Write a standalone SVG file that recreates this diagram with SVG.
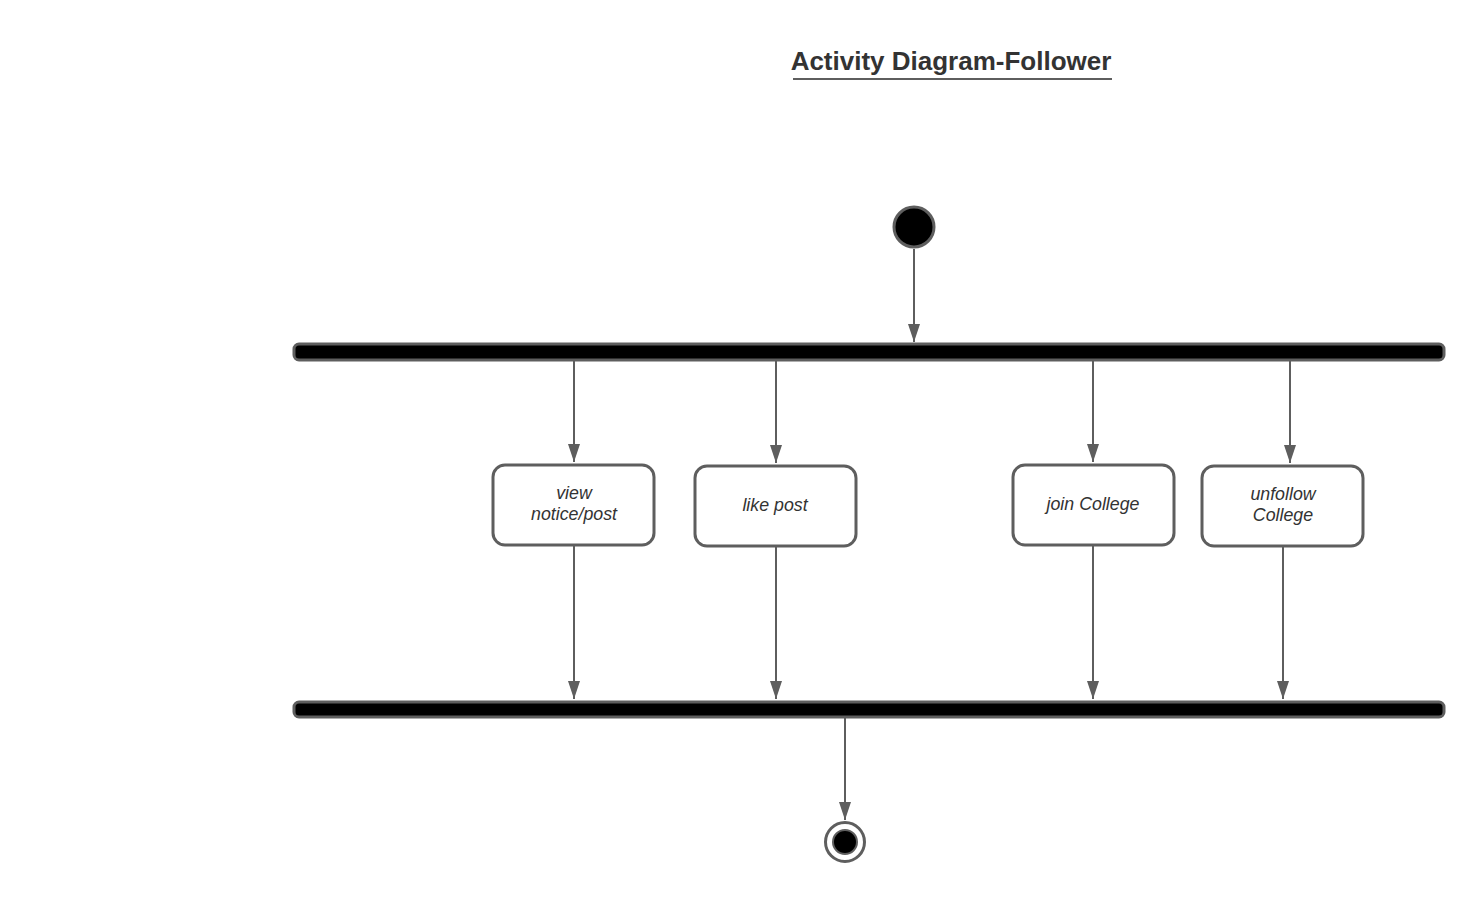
<svg xmlns="http://www.w3.org/2000/svg" width="1484" height="902" viewBox="0 0 1484 902">
<style>
.bar{fill:#000;stroke:#5e5e5e;stroke-width:3}
.act{fill:#fff;stroke:#5e5e5e;stroke-width:3}
.lbl{font-family:"Liberation Sans",Arial,sans-serif;font-size:17.8px;font-style:italic;fill:#333;text-anchor:middle}
.edge{stroke:#5e5e5e;stroke-width:2;fill:none;marker-end:url(#ah)}
</style>
<defs>
<marker id="ah" markerWidth="18" markerHeight="12" refX="18" refY="6" orient="auto" markerUnits="userSpaceOnUse" viewBox="0 0 18 12">
<path d="M0,0 L18,6 L0,12 Z" fill="#5e5e5e"/>
</marker>
</defs>
<rect width="1484" height="902" fill="#fff"/>
<g id="title">
<text x="951" y="70" font-family="'Liberation Sans',Arial,sans-serif" font-size="26" font-weight="bold" fill="#333" text-anchor="middle">Activity Diagram-Follower</text>
<line x1="793" y1="79" x2="1112" y2="79" stroke="#5e5e5e" stroke-width="2"/>
</g>
<g id="connectors">
<path class="edge" d="M914,249 V342"/>
<path class="edge" d="M574,361 V462"/>
<path class="edge" d="M776,361 V463"/>
<path class="edge" d="M1093,361 V462"/>
<path class="edge" d="M1290,361 V463"/>
<path class="edge" d="M574,546 V699"/>
<path class="edge" d="M776,547 V699"/>
<path class="edge" d="M1093,546 V699"/>
<path class="edge" d="M1283,547 V699"/>
<path class="edge" d="M845,718 V820"/>
</g>
<g id="start"><circle cx="914" cy="227" r="20" fill="#000" stroke="#5e5e5e" stroke-width="3"/></g>
<g id="fork"><rect class="bar" x="294" y="344" width="1150" height="16" rx="5"/></g>
<g id="join"><rect class="bar" x="294" y="702" width="1150" height="15" rx="5"/></g>
<g id="view"><rect class="act" x="493" y="465" width="161" height="80" rx="12"/><text class="lbl" x="574" y="499">view</text><text class="lbl" x="574" y="520">notice/post</text></g>
<g id="like"><rect class="act" x="695" y="466" width="161" height="80" rx="12"/><text class="lbl" x="775" y="511">like post</text></g>
<g id="joinCollege"><rect class="act" x="1013" y="465" width="161" height="80" rx="12"/><text class="lbl" x="1093" y="510">join College</text></g>
<g id="unfollow"><rect class="act" x="1202" y="466" width="161" height="80" rx="12"/><text class="lbl" x="1283" y="500">unfollow</text><text class="lbl" x="1283" y="521">College</text></g>
<g id="end"><circle cx="845" cy="842" r="19.5" fill="#fff" stroke="#5e5e5e" stroke-width="3"/><circle cx="845" cy="842" r="12" fill="#000" stroke="#5e5e5e" stroke-width="2"/></g>
</svg>
